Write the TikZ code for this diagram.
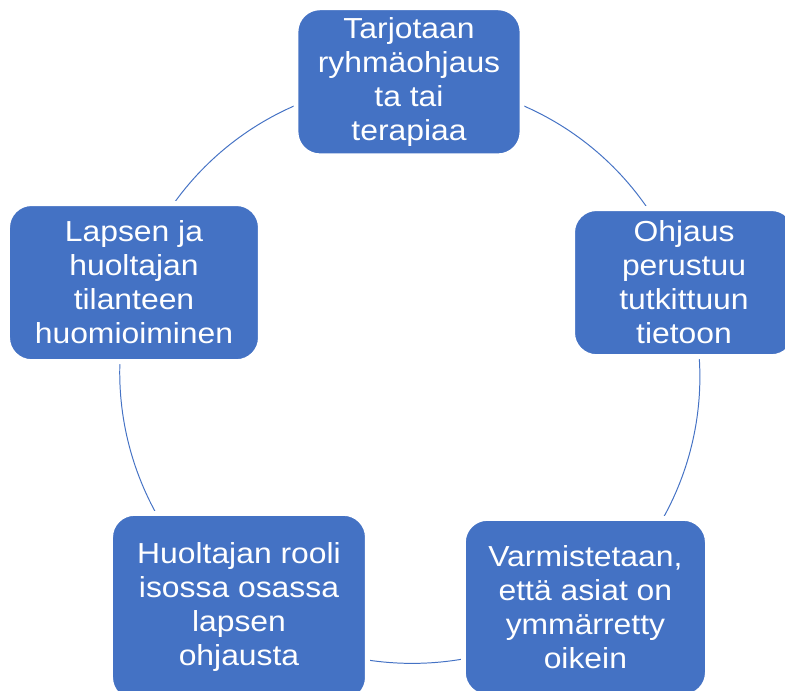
\documentclass[tikz,border=0pt]{standalone}
\usepackage{fontspec}
\setmainfont{Liberation Sans}[FakeStretch=1.1]
\usepackage{tikz}
\usetikzlibrary{backgrounds}
\definecolor{cycleblue}{HTML}{4472C4}

\begin{document}
\begin{tikzpicture}
	\useasboundingbox (-10.225,-7.925) rectangle (9.4,9.325);
	\begin{scope}[every node/.style={rectangle, rounded corners=0.6cm, fill=cycleblue, draw=white, line width=0.12cm, text=white, align=center, font=\fontsize{20.6}{24.2}\selectfont}]
		\node[minimum width=5.65cm, minimum height=3.7cm] (1) at (0,7.28) {Tarjotaan\\ryhmäohjaus\\ta tai\\terapiaa};
		\node[minimum width=5.57cm, minimum height=3.7cm] (2) at (6.875,2.26) {Ohjaus\\perustuu\\tutkittuun\\tietoon};
		\node[minimum width=6.1cm, minimum height=4.45cm] (3) at (4.41,-5.86) {Varmistetaan,\\että asiat on\\ymmärretty\\oikein};
		\node[minimum width=6.42cm, minimum height=4.7cm] (4) at (-4.25,-5.86) {Huoltajan rooli\\isossa osassa\\lapsen\\ohjausta};
		\node[minimum width=6.32cm, minimum height=3.95cm] (5) at (-6.875,2.26) {Lapsen ja\\huoltajan\\tilanteen\\huomioiminen};
	\end{scope}

	\begin{scope}[on background layer,
	              every edge/.style={draw=cycleblue, line width=0.7pt}]
		\path (1.center) edge[bend left=36, looseness=0.94] (2.center);
		\path (2.center) edge[bend left=36, looseness=0.94] (3.center);
		\path (3.center) edge[bend left=36, looseness=0.94] (4.center);
		\path (4.center) edge[bend left=36, looseness=0.94] (5.center);
		\path (5.center) edge[bend left=36, looseness=0.94] (1.center);
	\end{scope}
\end{tikzpicture}
\end{document}
